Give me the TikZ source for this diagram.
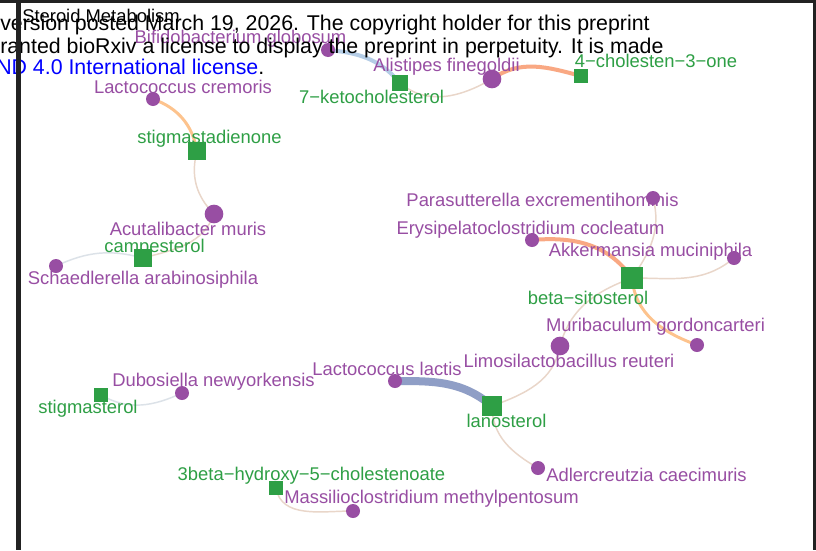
\documentclass[tikz,border=0pt]{standalone}
\usepackage{fontspec}
\setmainfont{Liberation Sans}
\usetikzlibrary{backgrounds}
\definecolor{bact}{HTML}{984EA3}
\definecolor{metab}{HTML}{2E9F45}
\definecolor{edgetan}{HTML}{E9D6C9}
\definecolor{edgeblue}{HTML}{B5CDE6}
\definecolor{edgesalmon}{HTML}{F9A883}
\definecolor{edgeorange}{HTML}{FDC38D}
\definecolor{edgegray}{HTML}{DCE2E8}
\definecolor{edgeslate}{HTML}{8F9EC6}
\definecolor{linkblue}{HTML}{0000FF}
\definecolor{framec}{HTML}{222222}
\newcommand\lblfont{\fontsize{13.8pt}{16pt}\selectfont}
\newcommand\noticefont{\fontsize{16pt}{19pt}\selectfont}
\tikzset{
  bug/.style={circle, fill=bact, inner sep=0pt, minimum size=10.5pt},
  bigbug/.style={circle, fill=bact, inner sep=0pt, minimum size=14pt},
  met/.style={rectangle, fill=metab, inner sep=0pt, minimum size=#1},
  blab/.style={text=bact, anchor=base, inner sep=0pt, font=\lblfont},
  mlab/.style={text=metab, anchor=base, inner sep=0pt, font=\lblfont},
  notice/.style={anchor=base west, inner sep=0pt, font=\noticefont, text=black},
  weak/.style={draw=edgetan, line width=1.1pt},
  grayish/.style={draw=edgegray, line width=1.1pt},
}
\begin{document}
\begin{tikzpicture}[x=0.75pt,y=0.75pt]
\useasboundingbox (0,0) rectangle (816,-550);

% bacteria
\node[bug]    (bif) at (328,-50) {};
\node[bigbug] (ali) at (492,-79) {};
\node[bug]    (lcr) at (153,-99) {};
\node[bigbug] (acu) at (214,-214) {};
\node[bug]    (sch) at (56,-266) {};
\node[bug]    (par) at (653,-198) {};
\node[bug]    (ery) at (532,-240) {};
\node[bug]    (akk) at (734,-258) {};
\node[bug]    (mur) at (697,-345) {};
\node[bigbug] (lim) at (560,-346) {};
\node[bug]    (lla) at (395,-381) {};
\node[bug]    (adl) at (538,-468) {};
\node[bug]    (dub) at (182,-393) {};
\node[bug]    (mas) at (353,-511) {};
% metabolites
\node[met=12pt]   (k7)  at (400,-83) {};
\node[met=9.8pt]  (c4)  at (581,-76) {};
\node[met=12.8pt] (sdn) at (197,-151) {};
\node[met=12.8pt] (cam) at (143,-258) {};
\node[met=15.8pt] (bsi) at (632,-278) {};
\node[met=14.3pt] (lan) at (492,-406) {};
\node[met=10.5pt] (stg) at (101,-395) {};
\node[met=10.5pt] (hyd) at (276,-488) {};

\begin{scope}[on background layer]
\fill[white] (0,0) rectangle (816,-550);
\draw[draw=edgeblue, line width=3pt] (bif.center) to[out=-5,in=130] (k7.center);
\draw[weak] (k7.center) to[out=-40,in=210] (ali.center);
\draw[draw=edgesalmon, line width=3pt] (ali.center) to[out=35,in=165] (c4.center);
\draw[draw=edgeorange, line width=2.2pt] (lcr.center) to[out=-20,in=100] (sdn.center);
\draw[weak] (sdn.center) to[out=-105,in=135] (acu.center);
\draw[weak] (acu.center) to[out=-110,in=15] (cam.center);
\draw[grayish] (cam.center) to[out=165,in=25] (sch.center);
\draw[draw=edgesalmon, line width=3pt] (ery.center) to[out=5,in=125] (bsi.center);
\draw[weak] (par.center) to[out=-75,in=55] (bsi.center);
\draw[weak] (akk.center) to[out=-140,in=0] (bsi.center);
\draw[draw=edgeorange, line width=2.2pt] (bsi.center) to[out=-85,in=160] (mur.center);
\draw[weak] (bsi.center) to[out=200,in=75] (lim.center);
\draw[draw=edgeslate, line width=6pt] (lla.center) to[out=0,in=140] (lan.center);
\draw[weak] (lan.center) to[out=20,in=-100] (lim.center);
\draw[weak] (lan.center) to[out=-90,in=150] (adl.center);
\draw[grayish] (stg.center) to[out=-30,in=205] (dub.center);
\draw[weak] (hyd.center) to[out=-80,in=180] (mas.center);
\end{scope}

% labels
\node[blab] (bif-l) at (240.5,-43) {Bifidobacterium globosum};
\node[blab] (ali-l) at (446.5,-71) {Alistipes finegoldii};
\node[mlab] (k7-l)  at (371.5,-103) {7−ketocholesterol};
\node[mlab] (c4-l)  at (656,-67) {4−cholesten−3−one};
\node[blab] (lcr-l) at (183,-93) {Lactococcus cremoris};
\node[mlab] (sdn-l) at (209.5,-143) {stigmastadienone};
\node[blab] (acu-l) at (188,-235) {Acutalibacter muris};
\node[mlab] (cam-l) at (154.5,-252) {campesterol};
\node[blab] (sch-l) at (143,-284) {Schaedlerella arabinosiphila};
\node[blab] (par-l) at (542.5,-206) {Parasutterella excrementihominis};
\node[blab] (ery-l) at (530.5,-234) {Erysipelatoclostridium cocleatum};
\node[blab] (akk-l) at (650.5,-256) {Akkermansia muciniphila};
\node[mlab] (bsi-l) at (588,-304) {beta−sitosterol};
\node[blab] (mur-l) at (655.5,-331) {Muribaculum gordoncarteri};
\node[blab] (lim-l) at (569,-367) {Limosilactobacillus reuteri};
\node[blab] (lla-l) at (387,-375) {Lactococcus lactis};
\node[blab] (dub-l) at (213.5,-386) {Dubosiella newyorkensis};
\node[mlab] (stg-l) at (88,-413) {stigmasterol};
\node[mlab] (lan-l) at (506.5,-427) {lanosterol};
\node[blab] (adl-l) at (646.5,-481) {Adlercreutzia caecimuris};
\node[mlab] (hyd-l) at (311.5,-480) {3beta−hydroxy−5−cholestenoate};
\node[blab] (mas-l) at (431.5,-503) {Massilioclostridium methylpentosum};

% title and overlaid notice
\node[anchor=base west, inner sep=0pt, font=\lblfont] (title) at (22,-22) {Steroid Metabolism};
\node[notice] (n1) at (0,-30) {version posted March 19, 2026. The copyright holder for this preprint};
\node[notice] (n2) at (0,-53) {ranted bioRxiv a license to display the preprint in perpetuity. It is made};
\node[notice] (n3) at (-4,-74) {\textcolor{linkblue}{ND 4.0 International license}.};

% frame
\fill[framec] (0,0) rectangle (816,-2.5);
\fill[framec] (16,0) rectangle (21,-550);
\fill[framec] (813,0) rectangle (815.5,-550);
\end{tikzpicture}
\end{document}
